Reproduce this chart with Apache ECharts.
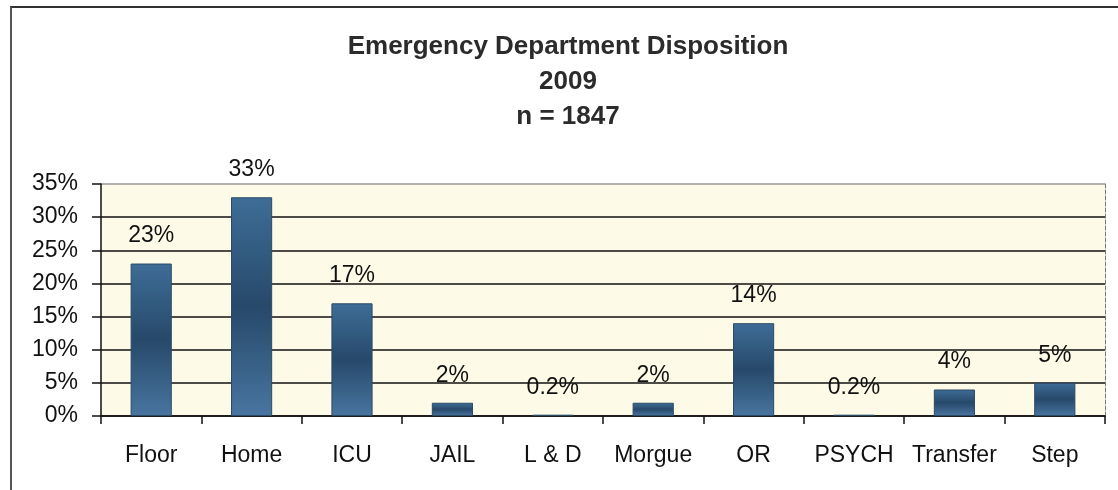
<!DOCTYPE html>
<html>
<head>
<meta charset="utf-8">
<title>Emergency Department Disposition 2009</title>
<style>
  html, body { margin: 0; padding: 0; background: #fff; }
  #chart { position: absolute; left: 0; top: 0; width: 1118px; height: 490px; }
  #frame { position: absolute; left: 10px; top: 6px; width: 1112px; height: 490px;
           border-left: 2px solid #555; border-top: 2px solid #333; }
</style>
</head>
<body>
<div id="frame"></div>
<div id="chart"></div>
<script src="https://cdn.jsdelivr.net/npm/echarts@6/dist/echarts.min.js"></script>
<script>
var categories = ['Floor', 'Home', 'ICU', 'JAIL', 'L & D', 'Morgue', 'OR', 'PSYCH', 'Transfer', 'Step'];
var percents = [23, 33, 17, 2, 0.2, 2, 14, 0.2, 4, 5];
var yTicks = [0, 5, 10, 15, 20, 25, 30, 35];

var myChart = echarts.init(document.getElementById('chart'));
var font = 'Arial, "Liberation Sans", sans-serif';

var option = {
    backgroundColor: 'transparent',
    animation: false,
    title: {
        text: 'Emergency Department Disposition\n2009\nn = 1847',
        left: 563,
        textAlign: 'center',
        top: 24,
        textStyle: {
            fontFamily: font,
            fontWeight: 'bold',
            fontSize: 26,
            lineHeight: 35,
            color: '#2b2b2b'
        }
    },
    grid: {
        left: 101,
        right: 13,
        top: 184,
        bottom: 74,
        show: true,
        backgroundColor: '#fdfbe8',
        borderWidth: 0
    },
    xAxis: {
        type: 'category',
        data: categories,
        axisLine: { lineStyle: { color: '#111', width: 1.5 } },
        axisTick: { show: true, interval: 0, length: 8, lineStyle: { color: '#111', width: 1.5 } },
        axisLabel: {
            interval: 0,
            margin: 28,
            fontFamily: font,
            fontSize: 23,
            color: '#111'
        }
    },
    yAxis: [{
        type: 'value',
        min: yTicks[0],
        max: yTicks[yTicks.length - 1],
        interval: 5,
        axisLine: { show: true, lineStyle: { color: '#111', width: 1.5 } },
        axisTick: { show: true, length: 9, lineStyle: { color: '#111', width: 1.5 } },
        axisLabel: {
            margin: 23,
            fontFamily: font,
            fontSize: 23,
            color: '#111',
            formatter: '{value}%'
        },
        splitLine: {
            show: true,
            lineStyle: {
                color: ['#111', '#111', '#111', '#111', '#111', '#111', '#111', '#999'],
                width: 1.5
            }
        }
    }, {
        type: 'value',
        position: 'right',
        min: yTicks[0],
        max: yTicks[yTicks.length - 1],
        interval: 5,
        axisLine: { show: true, lineStyle: { color: '#777', width: 1, type: 'dashed' } },
        axisTick: { show: false },
        axisLabel: { show: false },
        splitLine: { show: false }
    }],
    series: [{
        type: 'bar',
        data: percents,
        barWidth: '41%',
        itemStyle: {
            color: new echarts.graphic.LinearGradient(0, 0, 0, 1, [
                { offset: 0, color: '#3e6d97' },
                { offset: 0.5, color: '#27496a' },
                { offset: 1, color: '#4875a0' }
            ]),
            borderColor: '#2a4a66',
            borderWidth: 1
        },
        label: {
            show: true,
            position: 'top',
            distance: 16,
            fontFamily: font,
            fontSize: 23,
            color: '#111',
            formatter: function (p) { return p.value + '%'; }
        }
    }]
};

myChart.setOption(option);
</script>
</body>
</html>
